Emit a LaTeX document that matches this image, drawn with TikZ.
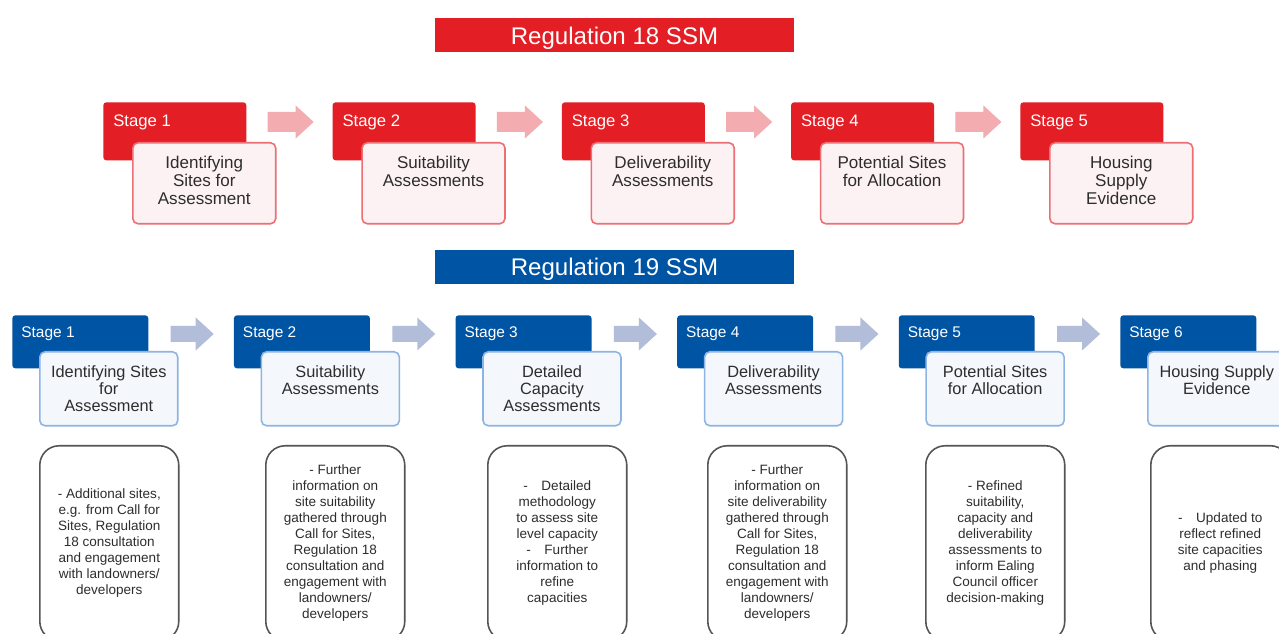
\documentclass[tikz,border=0pt]{standalone}
\usepackage{fontspec}
\setmainfont{Liberation Sans}
\usetikzlibrary{positioning,calc}
\definecolor{regred}{RGB}{227,30,36}
\definecolor{redline}{RGB}{234,112,118}
\definecolor{redpale}{RGB}{253,242,243}
\definecolor{redarrow}{RGB}{243,172,175}
\definecolor{regblue}{RGB}{0,84,164}
\definecolor{blueline}{RGB}{141,180,226}
\definecolor{bluepale}{RGB}{244,247,252}
\definecolor{bluearrow}{RGB}{178,189,218}
\definecolor{noteline}{RGB}{85,85,85}
\definecolor{bodytext}{RGB}{45,45,45}

\newcommand{\blockarrow}[4]{\fill[#2] (#1) ++(0,-#3) -- ++(#4,0) -- ++(0,{#3-16.5}) -- ++(18,16.5) -- ++(-18,16.5) -- ++(0,{#3-16.5}) -- ++(-#4,0) -- cycle;}

\begin{document}
\begin{tikzpicture}[x=0.02cm, y=-0.02cm,
  banner/.style={minimum width=7.18cm, minimum height=0.68cm, inner sep=0pt,
    text depth=0pt, text=white, font=\fontsize{13.7}{15}\selectfont},
  redhead/.style={anchor=north west, fill=regred, rounded corners=1.7pt,
    minimum width=2.86cm, minimum height=1.16cm, inner sep=0pt},
  redbox/.style={anchor=north west, draw=redline, line width=0.9pt, fill=redpale,
    rounded corners=3pt, minimum width=2.86cm, minimum height=1.62cm, inner sep=0pt},
  bluehead/.style={anchor=north west, fill=regblue, rounded corners=1.7pt,
    minimum width=2.72cm, minimum height=1.06cm, inner sep=0pt},
  bluebox/.style={anchor=north west, draw=blueline, line width=0.9pt, fill=bluepale,
    rounded corners=3pt, minimum width=2.76cm, minimum height=1.48cm, inner sep=0pt},
  redtag/.style={anchor=base west, inner sep=0pt, text=white, font=\fontsize{9.5}{11}\selectfont},
  bluetag/.style={anchor=base west, inner sep=0pt, text=white, font=\fontsize{8.8}{10}\selectfont},
  redtxt/.style={align=center, inner sep=0pt, text=bodytext, font=\fontsize{9.7}{10.3}\selectfont},
  bluetxt/.style={align=center, inner sep=0pt, text=bodytext, font=\fontsize{9.3}{9.7}\selectfont},
  notebox/.style={anchor=north west, draw=noteline, line width=0.9pt, fill=white,
    rounded corners=11pt, minimum width=2.78cm, minimum height=3.9cm, inner sep=0pt,
    align=center, text=bodytext, font=\fontsize{7.7}{9.1}\selectfont},
]
\useasboundingbox (0,0) rectangle (1279,634);
\clip (0,0) rectangle (1279,634);
\fill[white] (0,0) rectangle (1279,634);

% titles
\node[banner, fill=regred] (reg18) at (614.5,35.5) {Regulation 18 SSM};
\node[banner, fill=regblue] (reg19) at (614.5,267) {Regulation 19 SSM};

% Regulation 18 stages
\foreach \i/\txt in {1/{Identifying\\Sites for\\Assessment}, 2/{Suitability\\Assessments},
    3/{Deliverability\\Assessments}, 4/{Potential Sites\\for Allocation}, 5/{Housing\\Supply\\Evidence}}{
  \node[redhead] (rh\i) at ({103+229.25*(\i-1)},102) {};
  \node[redtag] (rt\i) at ($(rh\i.north west)+(10,25)$) {Stage \i};
  \node[redbox] (rb\i) at ($(rh\i.north west)+(29,40)$) {};
  \node[redtxt, below=0.27cm of rb\i.north, anchor=north] (rx\i) {\txt};
}
\foreach \i in {1,...,4}{
  \blockarrow{$(rh\i.north east)+(21,20)$}{redarrow}{10}{28}
}

% Regulation 19 stages
\foreach \i/\txt in {1/{Identifying Sites\\for\\Assessment}, 2/{Suitability\\Assessments},
    3/{Detailed\\Capacity\\Assessments}, 4/{Deliverability\\Assessments},
    5/{Potential Sites\\for Allocation}, 6/{Housing Supply\\Evidence}}{
  \node[bluehead] (bh\i) at ({12+221.6*(\i-1)},315) {};
  \node[bluetag] (bt\i) at ($(bh\i.north west)+(9,23)$) {Stage \i};
  \node[bluebox] (bb\i) at ($(bh\i.north west)+(27,36)$) {};
  \node[bluetxt, below=0.28cm of bb\i.north, anchor=north] (bx\i) {\txt};
}
\foreach \i in {1,...,5}{
  \blockarrow{$(bh\i.north east)+(22,19)$}{bluearrow}{8}{25}
}

% notes under Regulation 19
\foreach \i/\x/\txt in {
    1/39/{- Additional sites,\\e.g. from Call for\\Sites, Regulation\\18 consultation\\and engagement\\with landowners/\\developers},
    2/265/{- Further\\information on\\site suitability\\gathered through\\Call for Sites,\\Regulation 18\\consultation and\\engagement with\\landowners/\\developers},
    3/487/{-\quad Detailed\\methodology\\to assess site\\level capacity\\-\quad Further\\information to\\refine\\capacities},
    4/707/{- Further\\information on\\site deliverability\\gathered through\\Call for Sites,\\Regulation 18\\consultation and\\engagement with\\landowners/\\developers},
    5/925/{- Refined\\suitability,\\capacity and\\deliverability\\assessments to\\inform Ealing\\Council officer\\decision-making},
    6/1150/{-\quad Updated to\\reflect refined\\site capacities\\and phasing}}{
  \node[notebox] (nb\i) at (\x,445) {\txt};
}
\end{tikzpicture}
\end{document}
